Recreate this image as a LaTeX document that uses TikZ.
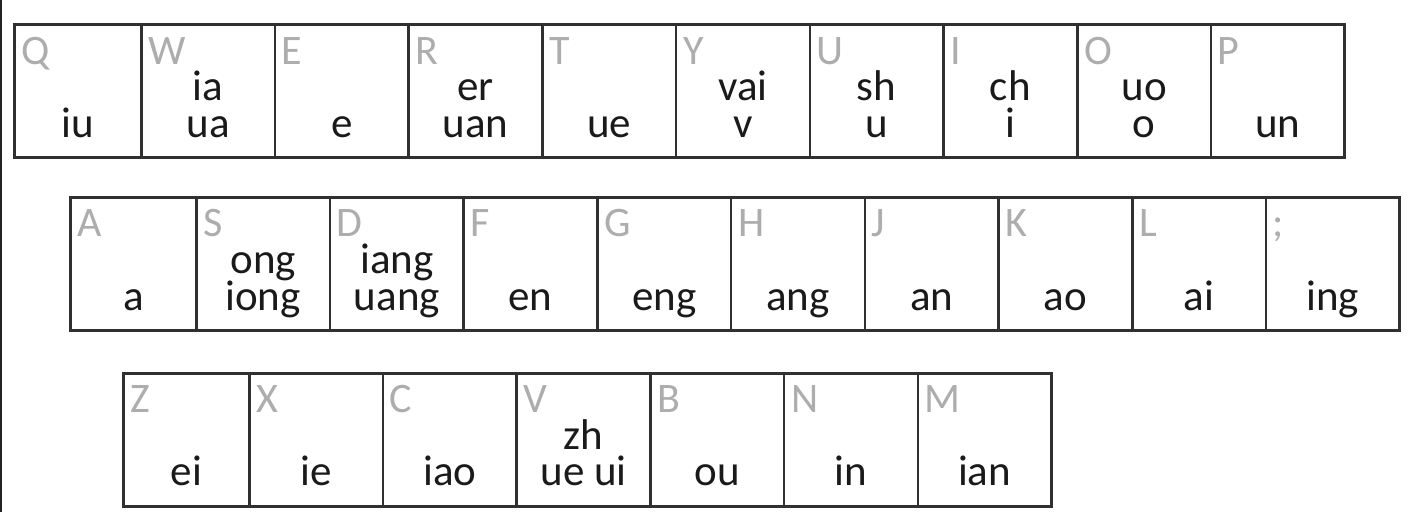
\documentclass[tikz,border=0pt]{standalone}
\usepackage{fontspec}
\setmainfont{Carlito}
\usetikzlibrary{calc}
\definecolor{ink}{HTML}{1A1A1A}
\definecolor{keygray}{HTML}{ADADAD}
\definecolor{cellline}{HTML}{303030}
\definecolor{edgedark}{HTML}{222222}

\begin{document}
\begin{tikzpicture}[
  x=1pt, y=-1pt,
  cell/.style={
    draw=cellline,
    line width=2.6pt,
    minimum height=133pt,
    inner sep=0pt,
    anchor=north west
  },
  keyletter/.style={font=\fontsize{42}{42}\selectfont, text=keygray, anchor=base west, inner sep=0pt, text depth=0pt},
  sound/.style={font=\fontsize{43}{43}\selectfont, text=ink, anchor=base, inner sep=0pt, text height=24pt, text depth=8pt}
]

% canvas
\useasboundingbox (0,0) rectangle (1409,512);
\fill[white] (0,0) rectangle (1409,512);
\fill[edgedark] (0,0) rectangle (1.5,512);

% Row 1: Q ... P
\foreach \k/\up/\low [count=\i] in {Q//iu, W/ia/ua, E//e, R/er/uan, T//ue, Y/vai/v, U/sh/u, I/ch/i, O/uo/o, P//un} {
  \pgfmathsetmacro\xr{140+(\i-1)*133.7}
  \pgfmathsetmacro\xl{\i==1 ? 13 : \xr-133.7}
  \pgfmathsetmacro\cw{\xr-\xl}
  \node[cell, minimum width=\cw pt] (r1c\i) at (\xl,23) {};
  \node[keyletter] at ($(r1c\i.north west)+(8,41)$) {\k};
  \node[sound] at ($(r1c\i.north)+(0,77)$) {\up};
  \node[sound] at ($(r1c\i.north)+(0,114)$) {\low};
}

% Row 2: A ... ;
\foreach \k/\up/\low [count=\i] in {A//a, S/ong/iong, D/iang/uang, F//en, G//eng, H//ang, J//an, K//ao, L//ai, ;//ing} {
  \pgfmathsetmacro\xr{195+(\i-1)*133.7}
  \pgfmathsetmacro\xl{\i==1 ? 69 : \xr-133.7}
  \pgfmathsetmacro\cw{\xr-\xl}
  \node[cell, minimum width=\cw pt] (r2c\i) at (\xl,196) {};
  \node[keyletter] at ($(r2c\i.north west)+(8,40)$) {\k};
  \node[sound] at ($(r2c\i.north)+(0,77)$) {\up};
  \node[sound] at ($(r2c\i.north)+(0,114)$) {\low};
}

% Row 3: Z ... M
\foreach \k/\up/\low [count=\i] in {Z//ei, X//ie, C//iao, V/zh/ue ui, B//ou, N//in, M//ian} {
  \pgfmathsetmacro\xr{248+(\i-1)*133.7}
  \pgfmathsetmacro\xl{\i==1 ? 122 : \xr-133.7}
  \pgfmathsetmacro\cw{\xr-\xl}
  \node[cell, minimum width=\cw pt] (r3c\i) at (\xl,372) {};
  \node[keyletter] at ($(r3c\i.north west)+(8,40)$) {\k};
  \node[sound] at ($(r3c\i.north)+(0,77)$) {\up};
  \node[sound] at ($(r3c\i.north)+(0,113)$) {\low};
}

\end{tikzpicture}
\end{document}
